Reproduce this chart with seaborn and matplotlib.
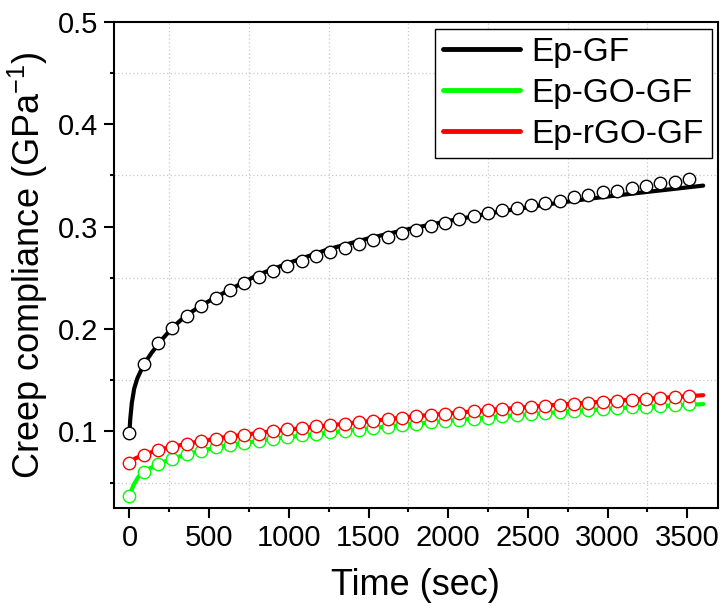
import matplotlib
matplotlib.use("Agg")
import matplotlib.pyplot as plt
import seaborn as sns
import pandas as pd
from matplotlib.ticker import MultipleLocator

# measured points (every 90 s)
time_pts = [0, 90, 180, 270, 360, 450, 540, 630, 720, 810,
            900, 990, 1080, 1170, 1260, 1350, 1440, 1530, 1620, 1710,
            1800, 1890, 1980, 2070, 2160, 2250, 2340, 2430, 2520, 2610,
            2700, 2790, 2880, 2970, 3060, 3150, 3240, 3330, 3420, 3510]

ep_gf_pts = [0.0986, 0.1657, 0.1860, 0.2012, 0.2126, 0.2224, 0.2302, 0.2377, 0.2445, 0.2504,
             0.2563, 0.2612, 0.2663, 0.2709, 0.2751, 0.2787, 0.2832, 0.2868, 0.2900, 0.2934,
             0.2969, 0.3002, 0.3034, 0.3073, 0.3103, 0.3129, 0.3158, 0.3184, 0.3207, 0.3227,
             0.3252, 0.3285, 0.3311, 0.3334, 0.3350, 0.3373, 0.3396, 0.3422, 0.3438, 0.3461]

ep_go_gf_pts = [0.0371, 0.0606, 0.0681, 0.0736, 0.0778, 0.0810, 0.0844, 0.0866, 0.0889, 0.0908,
                0.0925, 0.0947, 0.0964, 0.0977, 0.0990, 0.1003, 0.1018, 0.1032, 0.1045, 0.1060,
                0.1075, 0.1088, 0.1100, 0.1112, 0.1125, 0.1136, 0.1148, 0.1158, 0.1168, 0.1180,
                0.1190, 0.1199, 0.1208, 0.1216, 0.1225, 0.1234, 0.1243, 0.1251, 0.1259, 0.1268]

ep_rgo_gf_pts = [0.0690, 0.0769, 0.0817, 0.0850, 0.0876, 0.0905, 0.0928, 0.0947, 0.0964, 0.0980,
                 0.1000, 0.1020, 0.1035, 0.1049, 0.1062, 0.1071, 0.1091, 0.1107, 0.1117, 0.1132,
                 0.1148, 0.1159, 0.1175, 0.1185, 0.1198, 0.1207, 0.1220, 0.1230, 0.1240, 0.1250,
                 0.1260, 0.1269, 0.1276, 0.1288, 0.1298, 0.1308, 0.1317, 0.1327, 0.1337, 0.1350]

# fitted curves
fit_t_gf = [0, 5, 15, 30, 50, 90, 140, 200, 270, 350, 450, 600, 800, 1000, 1250, 1500,
            1750, 2000, 2300, 2600, 2900, 3200, 3600]
fit_gf = [0.0986, 0.112, 0.128, 0.142, 0.152, 0.1655, 0.177, 0.189, 0.2015, 0.2125, 0.223,
          0.236, 0.2525, 0.2645, 0.278, 0.2885, 0.2975, 0.3055, 0.3140, 0.3212, 0.3275,
          0.3330, 0.3400]

fit_t_go = [0, 25, 56, 90, 180, 360, 600, 900, 1350, 1800, 2300, 2700, 3100, 3600]
fit_go = [0.0371, 0.0476, 0.0557, 0.0606, 0.0684, 0.0780, 0.0862, 0.0928, 0.1005, 0.1077,
          0.1143, 0.1190, 0.1230, 0.1267]

fit_t_rgo = [0, 35, 90, 180, 360, 600, 900, 1350, 1800, 2300, 2700, 3100, 3600]
fit_rgo = [0.0690, 0.0736, 0.0772, 0.0820, 0.0880, 0.0945, 0.1003, 0.1075, 0.1150, 0.1215,
           0.1262, 0.1305, 0.1354]

labels = ["Ep-GF", "Ep-GO-GF", "Ep-rGO-GF"]
colors = ["#000000", "#00ff00", "#ff0000"]

sns.set_theme(style="white")
plt.rcParams["font.family"] = ["Liberation Sans", "DejaVu Sans"]
plt.rcParams["mathtext.fontset"] = "custom"
plt.rcParams["mathtext.rm"] = "Liberation Sans"
plt.rcParams["mathtext.it"] = "Liberation Sans"
plt.rcParams["text.color"] = "black"
plt.rcParams["axes.labelcolor"] = "black"

fig = plt.figure(figsize=(7.23, 6.15), dpi=100)
ax = fig.add_axes([0.157, 0.1735, 0.8355, 0.7912])

fits = [(fit_t_gf, fit_gf), (fit_t_go, fit_go), (fit_t_rgo, fit_rgo)]
points = [ep_gf_pts, ep_go_gf_pts, ep_rgo_gf_pts]

for (ft, fv), pts, lab, col in zip(fits, points, labels, colors):
    line_df = pd.DataFrame({"t": ft, "j": fv})
    sns.lineplot(data=line_df, x="t", y="j", color=col, lw=3, ax=ax, label=lab, zorder=2)
    pt_df = pd.DataFrame({"t": time_pts, "j": pts})
    sns.scatterplot(data=pt_df, x="t", y="j", ax=ax, s=80, facecolor="white",
                    edgecolor=col, linewidth=1.0, zorder=3)

ax.set_xlim(-100, 3690)
ax.set_ylim(0.025, 0.5)
ax.xaxis.set_major_locator(MultipleLocator(500))
ax.xaxis.set_minor_locator(MultipleLocator(250))
ax.yaxis.set_major_locator(MultipleLocator(0.1))
ax.yaxis.set_minor_locator(MultipleLocator(0.05))

ax.grid(False, which="major")
ax.grid(True, which="minor", ls=(0, (1, 2)), color="#c8c8c8", lw=0.9)

for sp in ax.spines.values():
    sp.set_color("black")
    sp.set_linewidth(1.5)

ax.tick_params(which="major", direction="out", length=7, width=1.5, labelsize=21,
               colors="black", bottom=True, left=True, top=False, right=False, pad=4)
ax.tick_params(which="minor", direction="out", length=3, width=1.5, colors="black",
               bottom=True, left=True, top=False, right=False)

ax.set_xlabel("Time (sec)", fontsize=26, labelpad=12)
ax.set_ylabel("Creep compliance (GPa$^{-1}$)", fontsize=26, labelpad=6)

leg = ax.legend(loc="upper right", bbox_to_anchor=(0.991, 0.986), borderaxespad=0,
                fontsize=24, frameon=True, fancybox=False, framealpha=1,
                handlelength=2.3, handletextpad=0.35, labelspacing=0.3, borderpad=0.25)
leg.get_frame().set_edgecolor("black")
leg.get_frame().set_linewidth(1.0)
for h in leg.get_lines():
    h.set_linewidth(3.5)

fig.savefig("out.png", dpi=100)
